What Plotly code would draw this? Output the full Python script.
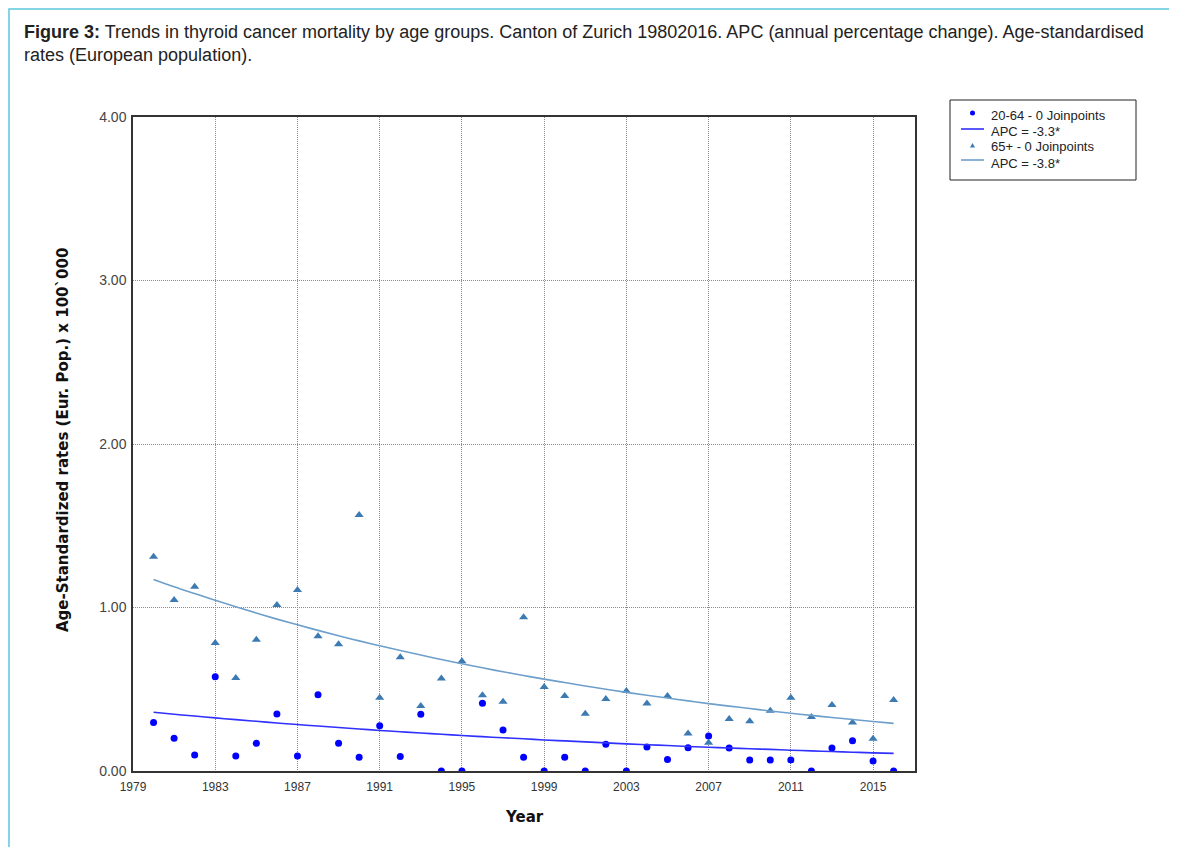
import plotly.graph_objects as go

years = list(range(1980, 2017))

rate_20_64 = [0.296, 0.200, 0.098, 0.577, 0.092, 0.169, 0.349, 0.092, 0.467, 0.169,
              0.084, 0.277, 0.088, 0.347, 0.0, 0.0, 0.414, 0.251, 0.084, 0.0,
              0.084, 0.0, 0.163, 0.0, 0.147, 0.071, 0.142, 0.214, 0.140, 0.067,
              0.067, 0.068, 0.0, 0.140, 0.185, 0.061, 0.0]

rate_65_plus = [1.310, 1.046, 1.127, 0.783, 0.569, 0.803, 1.015, 1.107, 0.824, 0.775,
                1.566, 0.448, 0.695, 0.398, 0.565, 0.671, 0.463, 0.424, 0.940, 0.514,
                0.459, 0.350, 0.440, 0.490, 0.413, 0.459, 0.230, 0.173, 0.318, 0.304,
                0.369, 0.448, 0.330, 0.404, 0.296, 0.198, 0.434]

fit_20_64 = [0.359, 0.347, 0.336, 0.325, 0.314, 0.304, 0.294, 0.284, 0.275, 0.266,
             0.257, 0.248, 0.240, 0.232, 0.225, 0.217, 0.210, 0.203, 0.197, 0.190,
             0.184, 0.178, 0.172, 0.166, 0.161, 0.156, 0.150, 0.145, 0.141, 0.136,
             0.132, 0.127, 0.123, 0.119, 0.115, 0.111, 0.108]

fit_65_plus = [1.172, 1.127, 1.085, 1.044, 1.004, 0.966, 0.929, 0.894, 0.860, 0.827,
               0.796, 0.766, 0.737, 0.709, 0.682, 0.656, 0.631, 0.607, 0.584, 0.562,
               0.541, 0.520, 0.500, 0.481, 0.463, 0.446, 0.429, 0.412, 0.397, 0.382,
               0.367, 0.353, 0.340, 0.327, 0.315, 0.303, 0.291]

x_ticks = [1979, 1983, 1987, 1991, 1995, 1999, 2003, 2007, 2011, 2015]
y_ticks = [0, 1, 2, 3, 4]
y_tick_labels = ["0.00", "1.00", "2.00", "3.00", "4.00"]

names = ["20-64 - 0 Joinpoints", "APC = -3.3*", "65+ - 0 Joinpoints", "APC = -3.8*"]

C_DOT = "#0000FF"
C_FIT1 = "#3030FF"
C_TRI = "#3C7AB2"
C_FIT2 = "#6E9FCB"

fig = go.Figure()
fig.add_trace(go.Scatter(x=years, y=rate_20_64, mode="markers", name=names[0],
                         marker=dict(symbol="circle", size=7, color=C_DOT)))
fig.add_trace(go.Scatter(x=years, y=fit_20_64, mode="lines", name=names[1],
                         line=dict(color=C_FIT1, width=1.6, shape="spline")))
fig.add_trace(go.Scatter(x=years, y=rate_65_plus, mode="markers", name=names[2],
                         marker=dict(symbol="triangle-up", size=8, color=C_TRI)))
fig.add_trace(go.Scatter(x=years, y=fit_65_plus, mode="lines", name=names[3],
                         line=dict(color=C_FIT2, width=1.6, shape="spline")))

OFF = 8  # page body margin
W, H = 1177 - OFF, 847 - OFF
L, R, T, B = 133, 915, 117, 771   # plot area in screen pixels
pw, ph = R - L, B - T

def px(xp):
    return (xp - L) / pw

def py(yp):
    return (B - yp) / ph

# ---- legend box drawn by hand (compact row spacing like the original) ----
LEG_X0, LEG_X1, LEG_Y0, LEG_Y1 = 950, 1136, 100, 180
row_y = [115, 131, 147, 163]
text_x = 990
shapes = [
    dict(type="rect", xref="paper", yref="paper",
         x0=px(9), x1=px(1172), y0=py(870), y1=py(9),
         line=dict(color="#5BC8DD", width=1.5), fillcolor="rgba(0,0,0,0)", layer="below"),
    dict(type="rect", xref="paper", yref="paper",
         x0=px(LEG_X0), x1=px(LEG_X1), y0=py(LEG_Y1), y1=py(LEG_Y0),
         line=dict(color="#222", width=1), fillcolor="white", layer="above"),
    # circle glyph
    dict(type="circle", xref="paper", yref="paper",
         x0=px(970), x1=px(975), y0=py(row_y[0] + 0.5), y1=py(row_y[0] - 4.5),
         line=dict(color=C_DOT, width=0), fillcolor=C_DOT, layer="above"),
    # line glyph 1
    dict(type="line", xref="paper", yref="paper",
         x0=px(961), x1=px(984), y0=py(row_y[1] - 2), y1=py(row_y[1] - 2),
         line=dict(color=C_FIT1, width=1.6), layer="above"),
    # triangle glyph
    dict(type="path", xref="paper", yref="paper",
         path=f"M {px(970)} {py(row_y[2] + 0.5)} L {px(975)} {py(row_y[2] + 0.5)} L {px(972.5)} {py(row_y[2] - 4)} Z",
         line=dict(color=C_TRI, width=0), fillcolor=C_TRI, layer="above"),
    # line glyph 2
    dict(type="line", xref="paper", yref="paper",
         x0=px(961), x1=px(984), y0=py(row_y[3] - 3), y1=py(row_y[3] - 3),
         line=dict(color=C_FIT2, width=1.6), layer="above"),
]

annotations = [
    dict(xref="paper", yref="paper", x=px(22), y=py(32), xanchor="left", yanchor="middle",
         showarrow=False, align="left",
         text="<b>Figure 3:</b> Trends in thyroid cancer mortality by age groups. Canton of Zurich 19802016. APC (annual percentage change). Age-standardised",
         font=dict(size=18, color="#222", family="Liberation Sans, Arial")),
    dict(xref="paper", yref="paper", x=px(22), y=py(55), xanchor="left", yanchor="middle",
         showarrow=False, align="left", text="rates (European population).",
         font=dict(size=18, color="#222", family="Liberation Sans, Arial")),
    dict(xref="paper", yref="paper", x=px(63), y=py(440), xanchor="center", yanchor="middle",
         showarrow=False, textangle=-90,
         text="<b>Age-Standardized rates (Eur. Pop.) x 100`000</b>",
         font=dict(size=15, color="#111", family="DejaVu Sans")),
    dict(xref="paper", yref="paper", x=px(524), y=py(817), xanchor="center", yanchor="middle",
         showarrow=False, text="<b>Year</b>",
         font=dict(size=15, color="#111", family="DejaVu Sans")),
]
for name, yy in zip(names, row_y):
    annotations.append(dict(xref="paper", yref="paper", x=px(text_x), y=py(yy),
                            xanchor="left", yanchor="middle", showarrow=False,
                            text=name, borderpad=0,
                            font=dict(size=13, color="#222", family="Liberation Sans, Arial")))

fig.update_layout(
    width=W, height=H,
    margin=dict(l=L - OFF, r=1177 - R, t=T - OFF, b=847 - B),
    paper_bgcolor="white", plot_bgcolor="white",
    font=dict(family="Liberation Sans, Arial", color="#222"),
    showlegend=False,
    xaxis=dict(range=[1979, 2017.04], tickvals=x_ticks, ticktext=[str(v) for v in x_ticks],
               showgrid=True, gridcolor="#8a8a8a", griddash="1px,1px", gridwidth=1,
               showline=True, linecolor="#333", linewidth=1.5, mirror=True,
               zeroline=False, ticks="", ticklabelstandoff=4,
               tickfont=dict(size=12, color="#333")),
    yaxis=dict(range=[0, 4], tickvals=y_ticks, ticktext=y_tick_labels,
               showgrid=True, gridcolor="#8a8a8a", griddash="1px,1px", gridwidth=1,
               showline=True, linecolor="#333", linewidth=1.5, mirror=True,
               zeroline=False, ticks="", ticklabelstandoff=2,
               tickfont=dict(size=14, color="#444")),
    shapes=shapes,
    annotations=annotations,
)

fig.write_html("out.html")
